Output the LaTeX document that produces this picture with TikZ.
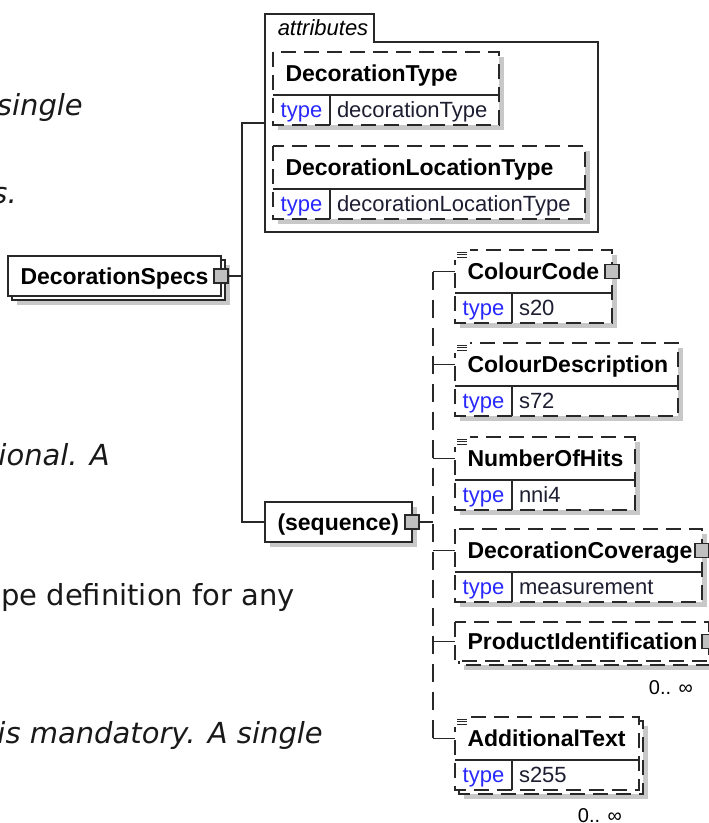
\documentclass[tikz,border=0pt]{standalone}
\usepackage{fontspec}
\setmainfont{Liberation Sans}
\newfontfamily\docfont{DejaVu Sans}
\usetikzlibrary{backgrounds}
\definecolor{linegrey}{RGB}{40,40,40}
\definecolor{shadowgrey}{RGB}{200,200,200}
\definecolor{btngrey}{RGB}{192,192,192}
\definecolor{typeblue}{RGB}{40,40,255}
\definecolor{valtext}{RGB}{30,30,50}
\definecolor{doctext}{RGB}{25,25,25}
\hyphenpenalty=10000
\hbadness=10000
\hfuzz=10pt

\tikzset{
  box/.style={draw=linegrey, line width=1.5pt},
  opt/.style={dash pattern=on 15pt off 8pt},
  optline/.style={dash pattern=on 18pt off 10pt},
  shade/.style={fill=shadowgrey},
  conn/.style={draw=linegrey, line width=1.5pt},
  ename/.style={anchor=north west, minimum height=43pt, inner xsep=12.5pt, inner ysep=0pt, outer sep=0pt,
    text height=20pt, text depth=4pt, align=left, font=\fontsize{23}{27}\selectfont\bfseries},
  tcell/.style={anchor=north west, minimum width=57pt, minimum height=30pt, inner sep=0pt, outer sep=0pt,
    text height=18pt, text depth=4pt, text=typeblue, font=\fontsize{22}{26}\selectfont},
  vcell/.style={anchor=north west, minimum height=30pt, inner xsep=7pt, inner ysep=0pt, outer sep=0pt,
    text height=18pt, text depth=4pt, align=left, text=valtext, font=\fontsize{22}{26}\selectfont},
  btn/.style={draw=linegrey, fill=btngrey, line width=1.2pt, minimum size=14pt, inner sep=0pt},
  docicon/.style={draw=linegrey, line width=0.9pt},
  mult/.style={anchor=east, inner sep=0pt, font=\fontsize{20}{24}\selectfont},
  doc/.style={anchor=base east, inner sep=0pt, text=doctext, font=\docfont\fontsize{29}{34}\selectfont},
}

\begin{document}
\begin{tikzpicture}[x=1pt, y=-1pt]
    \useasboundingbox (0,0) rectangle (709,823);
    \clip (0,0) rectangle (709,823);

    % Documentation text cut off at the left
    \node[doc] (doc1) at (83,115) {\itshape single};
    \node[doc] (doc2) at (17,203) {\itshape s.};
    \node[doc] (doc3) at (110,465) {\itshape ional. A};
    \node[doc] (doc4) at (295,605) {pe definition for any};
    \node[doc] (doc5) at (323,743) {\itshape is mandatory. A single};

    % Root element
    \node[ename, text width=188pt, minimum height=40pt] (specs) at (8,256) {DecorationSpecs};

    % Attributes group
    \node[anchor=north west, minimum width=333pt, minimum height=218pt, inner sep=0pt, outer sep=0pt] (attrs) at (265,14) {};
    \draw[box] (attrs.north west) -- ++(109,0) |- ([yshift=-28pt]attrs.north east)
      -- (attrs.south east) -- (attrs.south west) -- cycle;
    \node[font=\fontsize{22}{26}\selectfont\itshape] (attrtab) at ([xshift=58pt,yshift=-14pt]attrs.north west) {attributes};

    \node[ename, text width=201pt] (dtype) at (273,52) {DecorationType};
    \node[tcell] (dtype-t) at (dtype.south west) {type};
    \node[vcell, text width=155pt] (dtype-v) at (dtype-t.north east) {decorationType};

    \node[ename, text width=287pt] (dloc) at (273,146) {DecorationLocationType};
    \node[tcell] (dloc-t) at (dloc.south west) {type};
    \node[vcell, text width=241pt] (dloc-v) at (dloc-t.north east) {decorationLocationType};

    % Sequence compositor
    \node[ename, text width=122pt, minimum height=40pt] (seq) at (265,502) {(sequence)};

    % Child elements
    \node[ename, text width=132pt] (cc) at (455,250) {ColourCode};
    \node[tcell] (cc-t) at (cc.south west) {type};
    \node[vcell, text width=86pt] (cc-v) at (cc-t.north east) {s20};

    \node[ename, text width=198pt] (cdesc) at (455,343) {ColourDescription};
    \node[tcell] (cdesc-t) at (cdesc.south west) {type};
    \node[vcell, text width=152pt] (cdesc-v) at (cdesc-t.north east) {s72};

    \node[ename, text width=155pt] (hits) at (455,437) {NumberOfHits};
    \node[tcell] (hits-t) at (hits.south west) {type};
    \node[vcell, text width=109pt] (hits-v) at (hits-t.north east) {nni4};

    \node[ename, text width=222pt] (cov) at (455,529) {DecorationCoverage};
    \node[tcell] (cov-t) at (cov.south west) {type};
    \node[vcell, text width=176pt] (cov-v) at (cov-t.north east) {measurement};

    \node[ename, text width=229pt, minimum height=39pt] (prod) at (455,622) {ProductIdentification};

    \node[ename, text width=159pt] (addl) at (455,717) {AdditionalText};
    \node[tcell] (addl-t) at (addl.south west) {type};
    \node[vcell, text width=113pt] (addl-v) at (addl-t.north east) {s255};

    % Boxes and shadows
    \begin{scope}[on background layer]
      \fill[shade] ([shift={(9,9)}]specs.north west) rectangle ([shift={(9,9)}]specs.south east);
      \draw[box, fill=white] ([shift={(4,4)}]specs.north west) rectangle ([shift={(4,4)}]specs.south east);
      \draw[box, fill=white] (specs.north west) rectangle (specs.south east);

      \fill[shade] ([shift={(5,5)}]seq.north west) rectangle ([shift={(5,5)}]seq.south east);
      \draw[box, fill=white] (seq.north west) rectangle (seq.south east);

      \foreach \n in {dtype,dloc,cc,cdesc,hits,cov} {
        \fill[shade] ([shift={(5,5)}]\n.north west) rectangle ([shift={(5,5)}]\n-v.south east);
        \draw[box, opt, fill=white] (\n.north west) rectangle (\n-v.south east);
      }

      \fill[shade] ([shift={(9,9)}]prod.north west) rectangle ([shift={(9,9)}]prod.south east);
      \draw[box, opt, fill=white] ([shift={(4,4)}]prod.north west) rectangle ([shift={(4,4)}]prod.south east);
      \draw[box, opt, fill=white] (prod.north west) rectangle (prod.south east);

      \fill[shade] ([shift={(9,9)}]addl.north west) rectangle ([shift={(9,9)}]addl-v.south east);
      \draw[box, opt, fill=white] ([shift={(4,4)}]addl.north west) rectangle ([shift={(4,4)}]addl-v.south east);
      \draw[box, opt, fill=white] (addl.north west) rectangle (addl-v.south east);
    \end{scope}

    % Row and cell dividers
    \foreach \n in {dtype,dloc,cc,cdesc,hits,cov,addl} {
      \draw[box] (\n.south west) -- (\n.south east);
      \draw[box] (\n-t.north east) -- (\n-t.south east);
    }

    % Documentation marks
    \foreach \n in {cc,cdesc,hits,addl} {
      \fill[white] ([shift={(-1,-1)}]\n.north west) rectangle ++(16,11);
      \foreach \dy in {2,4.5,7}
        \draw[docicon] ([shift={(2,\dy)}]\n.north west) -- ++(10,0);
    }

    % Expand buttons
    \node[btn] (specsbtn) at (specs.east) {};
    \node[btn] (seqbtn) at (seq.east) {};
    \node[btn] (ccbtn) at (cc.east) {};
    \node[btn] (covbtn) at (cov.east) {};
    \node[btn] (prodbtn) at (prod.east) {};

    % Connectors
    \coordinate (trunk) at (242,0);
    \coordinate (seqline) at (433,0);
    \draw[conn] (specsbtn.east) -- (specsbtn.east -| trunk) |- (attrs.west);
    \draw[conn] (specsbtn.east -| trunk) |- (seq.west);
    \draw[conn] (seqbtn.east) -- (seqbtn.east -| seqline);
    \draw[conn, optline] (cc.west -| seqline) -- (addl.west -| seqline);
    \foreach \n in {cc,cdesc,hits,cov,prod,addl}
      \draw[conn] (\n.west -| seqline) -- (\n.west);

    % Occurrence labels
    \node[mult] (prodmult) at ([xshift=-16pt,yshift=-27pt]prod.south east) {0.. ∞};
    \node[mult] (addlmult) at ([xshift=-17pt,yshift=-26pt]addl-v.south east) {0.. ∞};
  \end{tikzpicture}
\end{document}
